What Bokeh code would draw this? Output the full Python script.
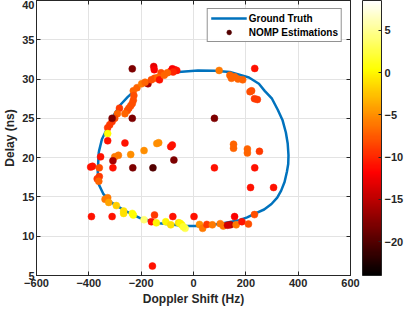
import numpy as np
from bokeh.plotting import figure
from bokeh.models import (ColumnDataSource, LinearColorMapper, ColorBar, LinearAxis,
                          FixedTicker, Legend, LegendItem)
from bokeh.embed import file_html
from bokeh.resources import INLINE

# ---------------- data ----------------
# Ground truth trajectory (Doppler Hz, Delay ns)
gt_doppler = [-362, -350, -326, -301, -280, -252, -204, -170, -130, -95, -57, 17, 80, 139,
              212, 250, 272, 300, 322, 340, 353, 360, 363, 362, 357, 348, 335, 320, 298, 270,
              237, 205, 175, 114, 41, -32, -130, -204, -265, -314, -344, -362, -366, -362]
gt_delay = [20.7, 22.35, 24.0, 25.6, 26.7, 27.7, 29.2, 29.8, 30.2, 30.6, 30.9, 31.1, 31.05, 30.9,
            30.2, 29.4, 28.5, 27.5, 26.1, 24.8, 23.2, 21.8, 20.3, 19.2, 18.2, 16.9, 15.8, 14.9, 14.1, 13.4,
            12.9, 12.4, 12.05, 11.65, 11.3, 11.3, 11.65, 12.3, 13.3, 14.3, 15.35, 16.6, 18.2, 20.7]

# NOMP estimations: Doppler (Hz), delay (ns), colour value
est_doppler = [-234, -152, -150, -124, -87, -81, -72, -64, -78, -230, -216, -198, -174, -185,
               -161, -149, -137, -130, -112, -100, -228, -230, -234, -240, -247, -253, -283, -291,
               -262, -301, -311, -320, -328, -311, -234, -328, -328, -262, -355, -301, -287, -240,
               -189, -140, -133, -87, -81, -75, -155, -232, -308, -308, -393, -386, -360, -368,
               -362, -360, 98, 139, 145, 157, 170, 188, 234, 222, 216, 233, 244, 80,
               153, 153, 206, 206, 252, 80, 234, 218, 306, 233, -338, -328, -324, -295,
               -267, -267, -234, -230, -189, -149, -161, -142, -106, -87, -57, -45, -32, -390,
               -311, -79, 2, -157, 23, 35, 51, 72, 102, 114, 141, 163, 185, 210,
               157, -51, -39, 130]
est_delay = [31.3, 31.6, 31.2, 30.8, 31.0, 31.3, 31.2, 31.1, 30.9, 28.5, 28.9, 29.4, 29.4, 29.6,
             29.9, 30.1, 30.2, 29.9, 30.5, 30.8, 27.9, 27.3, 26.9, 26.6, 26.3, 26.0, 26.3, 25.6,
             25.6, 25.0, 24.6, 24.2, 23.8, 25.0, 25.0, 23.06, 22.15, 21.86, 20.1, 20.1, 20.3, 20.4,
             20.9, 21.8, 21.9, 21.4, 21.6, 19.7, 18.7, 18.7, 19.6, 18.7, 18.8, 18.9, 17.6, 17.3,
             17.0, 18.7, 31.1, 30.5, 30.1, 30.3, 30.0, 29.9, 31.35, 28.5, 28.4, 27.5, 27.4, 25.0,
             21.7, 21.2, 21.1, 20.6, 20.8, 18.7, 18.7, 16.2, 16.2, 12.75, 14.7, 14.9, 14.3, 13.9,
             13.2, 12.9, 12.9, 12.7, 12.1, 12.7, 11.85, 11.7, 11.85, 11.45, 11.7, 11.45, 11.0, 12.5,
             12.5, 12.5, 12.5, 6.2, 11.5, 11.0, 11.5, 11.45, 11.6, 11.3, 11.45, 11.45, 11.85, 11.55,
             12.5, 11.65, 11.2, 11.4]
est_power = [-18, -13, -12, -8, -11, -12, -12, -11, -10, -7, -7, -6, -16, -7,
             -8, -8, -7, -11, -7, -7, -8, -8, -8, -8, -8, -8, -9, -7,
             -7, -8, -9, -9, -9, -18, -18, 0.5, -11, -11, -11, -6, -6, -5,
             -5, -5, -5, -11, -11, -18, -20, -18, -16, -11, -11, -11, -9, -9,
             -7, -8, -6, -7, -7, -7, -7, -7, -11, -8, -8, -9, -9, -18,
             -7, -7, -7, -7, -9, -11, -11, -11, -11, -8, -6, -6, -4, -2,
             -1, -1, 0.5, 0.5, 4, -9, -11, 0, 0, -1, -1, 0, 3, -11,
             -11, -11, -11, -11, -5, -6, -9, -6, -6, -6, -15, -6, -11, -8,
             -12, 0, 2, -14]

x_ticks = [-600, -400, -200, 0, 200, 400, 600]
y_ticks = [5, 10, 15, 20, 25, 30, 35, 40]
cbar_ticks = [-20, -15, -10, -5, 0, 5]

# ---------------- style ----------------
def hot(n=256):
    out = []
    for i in range(n):
        t = i / (n - 1)
        r = min(1.0, t / 0.375)
        g = min(1.0, max(0.0, (t - 0.375) / 0.375))
        b = min(1.0, max(0.0, (t - 0.75) / 0.25))
        out.append("#%02x%02x%02x" % (int(round(r * 255)), int(round(g * 255)), int(round(b * 255))))
    return out

FONT = "Liberation Sans"
INK = "#262626"
mapper = LinearColorMapper(palette=hot(), low=-24.0, high=8.55)

p = figure(width=406, height=308, x_range=(-600, 600), y_range=(5, 40),
           output_backend="svg", toolbar_location=None)
p.min_border = 0
p.min_border_top = 0
p.min_border_right = 0
p.min_border_bottom = 0
p.min_border_left = 0
p.outline_line_color = INK
p.background_fill_color = "white"

line_r = p.line(gt_doppler, gt_delay, line_color="#0072BD", line_width=2.5)

src = ColumnDataSource(dict(x=est_doppler, y=est_delay, c=est_power))
sc = p.scatter("x", "y", source=src, size=7,
               fill_color={"field": "c", "transform": mapper},
               line_color={"field": "c", "transform": mapper}, line_width=0.5)

bottom = p.below[0]
left = p.left[0]

# extra axes on top and right (ticks only) for the MATLAB box look
top = LinearAxis(major_label_overrides={t: "" for t in x_ticks}, major_label_standoff=0)
right = LinearAxis(major_label_overrides={t: "" for t in y_ticks}, major_label_standoff=0)
p.add_layout(top, "above")
p.add_layout(right, "right")

# invisible spacer between the axes box and the colour bar
spacer = LinearAxis(major_label_overrides={t: "" for t in y_ticks}, major_label_standoff=0,
                    ticker=FixedTicker(ticks=y_ticks), major_tick_in=0, major_tick_out=12,
                    major_tick_line_color=None, minor_tick_line_color=None,
                    axis_line_color=None)
p.add_layout(spacer, "right")

cb = ColorBar(color_mapper=mapper, ticker=FixedTicker(ticks=cbar_ticks), width=19,
              padding=0, margin=0, major_tick_in=3, major_tick_out=0,
              major_tick_line_color=INK, bar_line_color=INK,
              major_label_text_font=FONT, major_label_text_font_style="bold",
              major_label_text_font_size="11px", major_label_text_color=INK,
              label_standoff=3, background_fill_color=None)
p.add_layout(cb, "right")

for ax in (bottom, top):
    ax.ticker = FixedTicker(ticks=x_ticks)
for ax in (left, right):
    ax.ticker = FixedTicker(ticks=y_ticks)
for ax in (bottom, top, left, right):
    ax.major_tick_in = 4
    ax.major_tick_out = 0
    ax.minor_tick_line_color = None
    ax.axis_line_color = INK
    ax.major_tick_line_color = INK
    ax.major_label_text_font = FONT
    ax.major_label_text_font_style = "bold"
    ax.major_label_text_color = INK
    ax.major_label_text_font_size = "11px"
    ax.major_label_text_line_height = 1.0
    ax.axis_label_text_font = FONT
    ax.axis_label_text_font_style = "bold"
    ax.axis_label_text_color = INK
    ax.axis_label_text_font_size = "12px"
    ax.axis_label_text_line_height = 1.0

bottom.axis_label = "Doppler Shift (Hz)"
left.axis_label = "Delay (ns)"
bottom.major_label_standoff = 3
left.major_label_standoff = 2
bottom.axis_label_standoff = 2
left.axis_label_standoff = 2

p.grid.grid_line_color = "#e3e3e3"
p.xgrid.ticker = FixedTicker(ticks=x_ticks)
p.ygrid.ticker = FixedTicker(ticks=y_ticks)

legend = Legend(items=[LegendItem(label="Ground Truth", renderers=[line_r]),
                       LegendItem(label="NOMP Estimations", renderers=[sc], index=48)],
                location="top_right", glyph_width=36, glyph_height=12, label_height=12,
                label_text_font=FONT, label_text_font_style="bold",
                label_text_font_size="10px", label_text_color="#000000",
                border_line_color=INK, border_line_width=1,
                padding=3, spacing=2, margin=8, label_standoff=2)
p.add_layout(legend, "center")

open("out.html", "w").write(file_html(p, INLINE))
